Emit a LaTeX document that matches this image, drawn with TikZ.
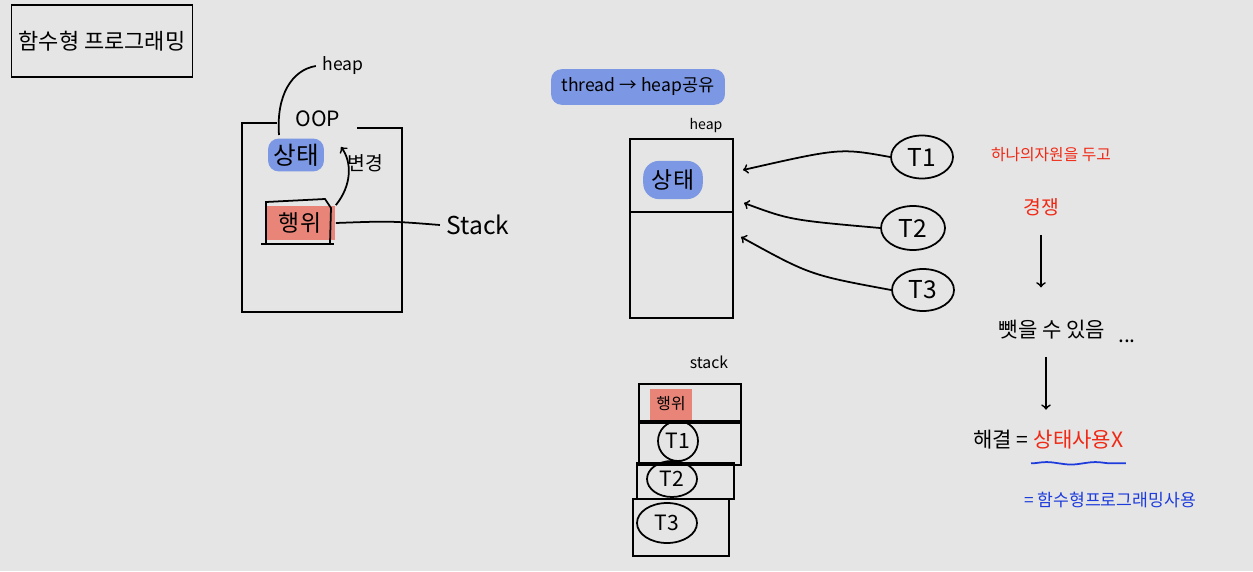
\documentclass[tikz,border=0pt]{standalone}
\usepackage{fontspec}
\newfontfamily\kr{Noto Sans CJK KR}
\usetikzlibrary{shapes.geometric,decorations.pathmorphing}
\definecolor{paper}{RGB}{229,229,229}
\definecolor{hlblue}{RGB}{124,152,228}
\definecolor{hlred}{RGB}{232,132,120}
\definecolor{penred}{RGB}{240,40,20}
\definecolor{penblue}{RGB}{30,60,220}
\tikzset{
  every node/.style={font=\kr},
  sz/.style={font=\kr\fontsize{#1}{#1}\selectfont},
  thr/.style={draw,ellipse,inner sep=1pt},
  hlb/.style={fill=hlblue,rounded corners=6pt},
  hlr/.style={fill=hlred},
}
\begin{document}
\begin{tikzpicture}[x=0.02cm,y=-0.02cm,line width=1pt]
\fill[paper] (0,0) rectangle (1253,571);
\useasboundingbox (0,0) rectangle (1253,571);
\node[draw,minimum width=3.62cm,minimum height=1.44cm,sz=12.5] (title) at (102,41) {함수형 프로그래밍};
\node[sz=10] (heapL) at (343,66) {heap};
\node[sz=12] (oop) at (318,119) {OOP};
\draw (277,123) -- (242,123) -- (242,312) -- (402,312) -- (402,128) -- (357,128);
\draw (279,135) .. controls (276,95) and (292,70) .. (heapL.west);
\node[hlb,sz=14,inner sep=3pt] (stateL) at (296,155) {상태};
\node[sz=11] (chg) at (365,163) {변경};
\node[hlr,minimum width=1.4cm,minimum height=0.68cm,sz=13] (act) at (300,223) {행위};
\draw (266,243) -- (266,202) -- (325,199) -- (331,208) -- (330,243);
\draw (261,244) -- (334,244);
\coordinate (chgtip) at (341,147);
\draw[->] (act.north east) .. controls (352,185) and (352,162) .. (chgtip);
\node[sz=14] (stackL) at (478,225) {Stack};
\draw (act.east) .. controls (390,221) .. (stackL.west);
\node[hlb,sz=10,inner ysep=5pt,inner xsep=6pt] (share) at (638,87) {thread → heap공유};
\node[sz=8] (heapM) at (706,126) {heap};
\node[draw,minimum width=2.06cm,minimum height=3.58cm] (heapbox) at (681.5,228.5) {};
\draw (heapbox.west |- 0,212) -- (heapbox.east |- 0,212);
\node[hlb,sz=13,rounded corners=9pt,inner sep=5pt] (stateM) at (673,180) {상태};
\node[thr,sz=14,minimum width=1.24cm,minimum height=0.86cm] (t1) at (922,157) {T1};
\node[thr,sz=14,minimum width=1.28cm,minimum height=0.88cm] (t2) at (913,228) {T2};
\node[thr,sz=14,minimum width=1.24cm,minimum height=0.84cm] (t3) at (923,290) {T3};
\coordinate (in1) at (743,170);
\coordinate (in2) at (744,203);
\coordinate (in3) at (741,237);
\draw[->] (t1.west) .. controls (840,148) .. (in1);
\draw[->] (t2.west) .. controls (790,220) .. (in2);
\draw[->] (t3.west) .. controls (810,275) .. (in3);
\node[sz=9] (stackM) at (709,362) {stack};
\node[draw,minimum width=2.04cm,minimum height=0.74cm,anchor=north west] (sk1) at (638,383) {};
\node[draw,minimum width=2.04cm,minimum height=0.84cm,anchor=north west] (sk2) at (sk1.south west) {};
\node[draw,minimum width=1.94cm,minimum height=0.72cm,anchor=north west] (sk3) at (636,462) {};
\node[draw,minimum width=1.92cm,minimum height=1.14cm,anchor=north west] (sk4) at (632,498) {};
\node[hlr,sz=9,minimum width=0.84cm,minimum height=0.62cm] (actM) at (671,404) {행위};
\node[thr,sz=12,minimum width=0.8cm,minimum height=0.8cm] (s1) at (678,441) {T1};
\node[thr,sz=12,minimum width=1.0cm,minimum height=0.72cm] (s2) at (672,479) {T2};
\node[thr,sz=12,minimum width=1.2cm,minimum height=0.8cm] (s3) at (667,523) {T3};
\node[text=penred,sz=9] (race1) at (1051,155) {하나의자원을 두고};
\node[text=penred,sz=11] (race2) at (1041,207) {경쟁};
\node[sz=12] (steal) at (1052,330) {뺏을 수 있음};
\node[sz=12] (dots) at (1127,341) {...};
\draw[->,shorten <=7pt,shorten >=15pt] (race2.south) -- (race2.south |- steal.north);
\node[sz=12,anchor=east,inner xsep=1pt] (sol) at (1031,440) {해결 =};
\node[text=penred,sz=12,anchor=west,inner xsep=1pt] (nostate) at (sol.east) {상태사용X};
\draw[penblue,decorate,decoration={snake,amplitude=0.7pt,segment length=28pt}] ([yshift=-4pt]nostate.south west) -- ([yshift=-4pt]nostate.south east);
\draw[->,shorten <=6pt,shorten >=8pt] (steal.south -| 1046,0) -- (sol.north -| 1046,0);
\node[text=penblue,sz=9.8] (fp) at (1110,500) {= 함수형프로그래밍사용};
\end{tikzpicture}
\end{document}
